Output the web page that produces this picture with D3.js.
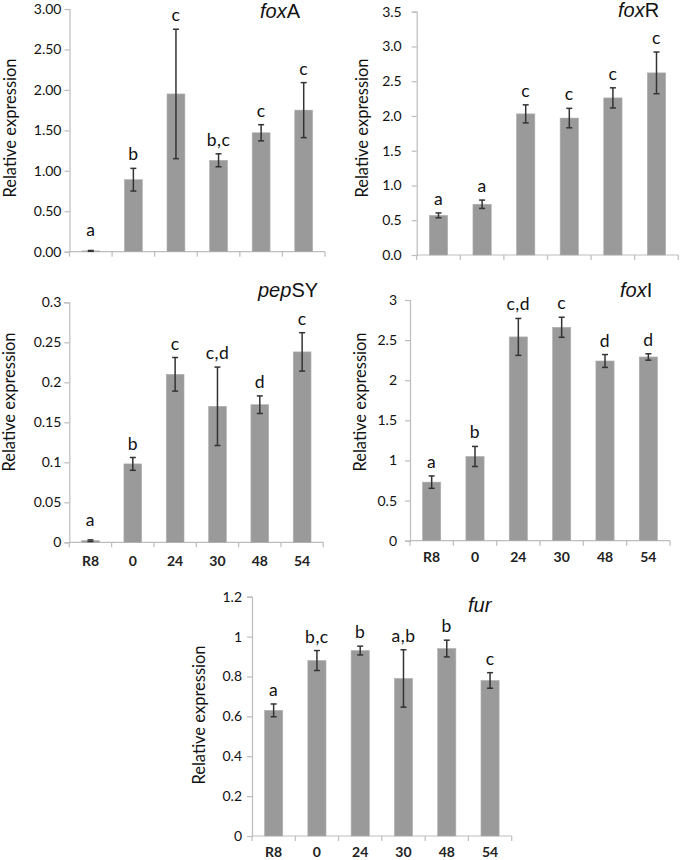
<!DOCTYPE html>
<html>
<head>
<meta charset="utf-8">
<script src="https://cdn.jsdelivr.net/npm/d3@7/dist/d3.min.js"></script>
<style>
  html, body { margin: 0; padding: 0; background: #fff; }
  svg { display: block; }
  .tick text { font-family: Lato, "Open Sans", sans-serif; fill: #111; }
</style>
</head>
<body>
<svg id="chart" width="680" height="860"></svg>
<script>
// ---------- data ----------
const categories = ["R8", "0", "24", "30", "48", "54"];

const foxA_values = [0.01, 0.89, 1.95, 1.13, 1.47, 1.75];
const foxA_errors = [0.005, 0.14, 0.80, 0.08, 0.10, 0.34];
const foxA_letters = ["a", "b", "c", "b,c", "c", "c"];
const foxA_ticks = [0, 0.5, 1, 1.5, 2, 2.5, 3];
const foxA_tickLabels = ["0.00", "0.50", "1.00", "1.50", "2.00", "2.50", "3.00"];

const foxR_values = [0.57, 0.73, 2.03, 1.97, 2.26, 2.62];
const foxR_errors = [0.035, 0.06, 0.13, 0.14, 0.145, 0.30];
const foxR_letters = ["a", "a", "c", "c", "c", "c"];
const foxR_ticks = [0, 0.5, 1, 1.5, 2, 2.5, 3, 3.5];
const foxR_tickLabels = ["0.0", "0.5", "1.0", "1.5", "2.0", "2.5", "3.0", "3.5"];

const pepSY_values = [0.002, 0.098, 0.21, 0.17, 0.172, 0.238];
const pepSY_errors = [0.001, 0.008, 0.021, 0.049, 0.011, 0.024];
const pepSY_letters = ["a", "b", "c", "c,d", "d", "c"];
const pepSY_ticks = [0, 0.05, 0.1, 0.15, 0.2, 0.25, 0.3];
const pepSY_tickLabels = ["0", "0.05", "0.1", "0.15", "0.2", "0.25", "0.3"];

const foxI_values = [0.73, 1.05, 2.54, 2.66, 2.24, 2.29];
const foxI_errors = [0.077, 0.125, 0.23, 0.125, 0.08, 0.04];
const foxI_letters = ["a", "b", "c,d", "c", "d", "d"];
const foxI_ticks = [0, 0.5, 1, 1.5, 2, 2.5, 3];
const foxI_tickLabels = ["0", "0.5", "1", "1.5", "2", "2.5", "3"];

const fur_values = [0.63, 0.88, 0.93, 0.79, 0.94, 0.78];
const fur_errors = [0.032, 0.05, 0.022, 0.144, 0.042, 0.039];
const fur_letters = ["a", "b,c", "b", "a,b", "b", "c"];
const fur_ticks = [0, 0.2, 0.4, 0.6, 0.8, 1, 1.2];
const fur_tickLabels = ["0", "0.2", "0.4", "0.6", "0.8", "1", "1.2"];

// ---------- layout ----------
const panels = [
  { italic: "fox", upright: "A", values: foxA_values, errors: foxA_errors, letters: foxA_letters, ticks: foxA_ticks, tickLabels: foxA_tickLabels,
    x0: 69.5, x1: 325, yTop: 9, yBot: 251.7, tickPad: 3, ylabX: 10, ylabY: 128, titleX: 260, titleY: 18, showX: false },
  { italic: "fox", upright: "R", values: foxR_values, errors: foxR_errors, letters: foxR_letters, ticks: foxR_ticks, tickLabels: foxR_tickLabels,
    x0: 416.7, x1: 678.3, yTop: 11.7, yBot: 255, tickPad: 10, ylabX: 361.5, ylabY: 128, titleX: 618, titleY: 17, showX: false },
  { italic: "pep", upright: "SY", values: pepSY_values, errors: pepSY_errors, letters: pepSY_letters, ticks: pepSY_ticks, tickLabels: pepSY_tickLabels,
    x0: 69.3, x1: 323.3, yTop: 302.3, yBot: 542.3, tickPad: 3, ylabX: 9, ylabY: 402, titleX: 258, titleY: 297, showX: true, xlabDy: 24 },
  { italic: "fox", upright: "I", values: foxI_values, errors: foxI_errors, letters: foxI_letters, ticks: foxI_ticks, tickLabels: foxI_tickLabels,
    x0: 410, x1: 670, yTop: 300, yBot: 540.7, tickPad: 8, ylabX: 359.5, ylabY: 402, titleX: 620, titleY: 297, showX: true, xlabDy: 21 },
  { italic: "fur", upright: "", values: fur_values, errors: fur_errors, letters: fur_letters, ticks: fur_ticks, tickLabels: fur_tickLabels,
    x0: 252, x1: 511.7, yTop: 596.7, yBot: 836, tickPad: 5, ylabX: 198.5, ylabY: 715, titleX: 468, titleY: 612, showX: true, xlabDy: 21 }
];

const svg = d3.select("#chart");
const axisColor = "#bdbdbd";
const barColor = "#9a9a9a";
const errColor = "#333";

panels.forEach(p => {
  const g = svg.append("g");
  const maxTick = p.ticks[p.ticks.length - 1];
  const y = d3.scaleLinear().domain([0, maxTick]).range([p.yBot, p.yTop]);
  const x = d3.scaleBand().domain(categories).range([p.x0, p.x1])
    .paddingInner(0.58).paddingOuter(0.29);
  const step = (p.x1 - p.x0) / categories.length;

  // y axis
  const yAxis = d3.axisLeft(y).tickValues(p.ticks)
    .tickFormat((d, i) => p.tickLabels[i]).tickSize(5).tickPadding(p.tickPad);
  const ya = g.append("g").attr("transform", `translate(${p.x0},0)`).call(yAxis);
  ya.select(".domain").attr("stroke", axisColor).attr("stroke-width", 1.2);
  ya.selectAll(".tick line").attr("stroke", axisColor).attr("stroke-width", 1.2);
  ya.selectAll(".tick text").attr("font-size", 14);

  // x axis line
  g.append("line").attr("x1", p.x0).attr("x2", p.x1)
    .attr("y1", y(0)).attr("y2", y(0))
    .attr("stroke", axisColor).attr("stroke-width", 1.2);
  // category boundary ticks
  g.selectAll(".xtick").data(d3.range(categories.length + 1)).enter()
    .append("line")
    .attr("x1", i => p.x0 + i * step).attr("x2", i => p.x0 + i * step)
    .attr("y1", y(0)).attr("y2", y(0) + 5)
    .attr("stroke", axisColor).attr("stroke-width", 1.2);

  // bars
  g.selectAll(".bar").data(p.values).enter().append("rect")
    .attr("x", (d, i) => x(categories[i]))
    .attr("width", x.bandwidth())
    .attr("y", d => y(d))
    .attr("height", d => y(0) - y(d))
    .attr("fill", barColor)
    .attr("stroke", "#b0b0b0").attr("stroke-width", 0.6);

  // error bars
  const cx = i => x(categories[i]) + x.bandwidth() / 2;
  const eg = g.append("g").attr("stroke", errColor).attr("stroke-width", 1.5);
  p.values.forEach((v, i) => {
    const top = y(v + p.errors[i]), bot = y(Math.max(0, v - p.errors[i]));
    eg.append("line").attr("x1", cx(i)).attr("x2", cx(i)).attr("y1", top).attr("y2", bot);
    eg.append("line").attr("x1", cx(i) - 3).attr("x2", cx(i) + 3).attr("y1", top).attr("y2", top);
    eg.append("line").attr("x1", cx(i) - 3).attr("x2", cx(i) + 3).attr("y1", bot).attr("y2", bot);
  });

  // significance letters
  g.selectAll(".sig").data(p.letters).enter().append("text")
    .attr("x", (d, i) => cx(i))
    .attr("y", (d, i) => Math.min(y(p.values[i] + p.errors[i]) - 8, y(0) - 16))
    .attr("text-anchor", "middle")
    .attr("font-family", "Lato, 'Open Sans', sans-serif")
    .attr("font-size", 17.5)
    .attr("letter-spacing", 0.5)
    .attr("fill", "#111")
    .text(d => d);

  // x labels
  if (p.showX) {
    g.selectAll(".xl").data(categories).enter().append("text")
      .attr("x", d => x(d) + x.bandwidth() / 2)
      .attr("y", y(0) + p.xlabDy)
      .attr("text-anchor", "middle")
      .attr("font-family", "Lato, 'Open Sans', sans-serif")
      .attr("font-size", 14)
      .attr("font-weight", 700)
      .attr("fill", "#222")
      .text(d => d);
  }

  // y axis title
  g.append("text")
    .attr("transform", `translate(${p.ylabX},${p.ylabY}) rotate(-90)`)
    .attr("text-anchor", "middle")
    .attr("dominant-baseline", "central")
    .attr("font-family", "Lato, 'Open Sans', sans-serif")
    .attr("font-size", 16.5)
    .attr("fill", "#111")
    .text("Relative expression");

  // gene title
  const t = g.append("text")
    .attr("x", p.titleX).attr("y", p.titleY)
    .attr("font-family", "'Liberation Sans', Arial, sans-serif")
    .attr("font-size", 20)
    .attr("fill", "#111");
  t.append("tspan").attr("font-style", "italic").text(p.italic);
  if (p.upright) t.append("tspan").text(p.upright);
});
</script>
</body>
</html>
